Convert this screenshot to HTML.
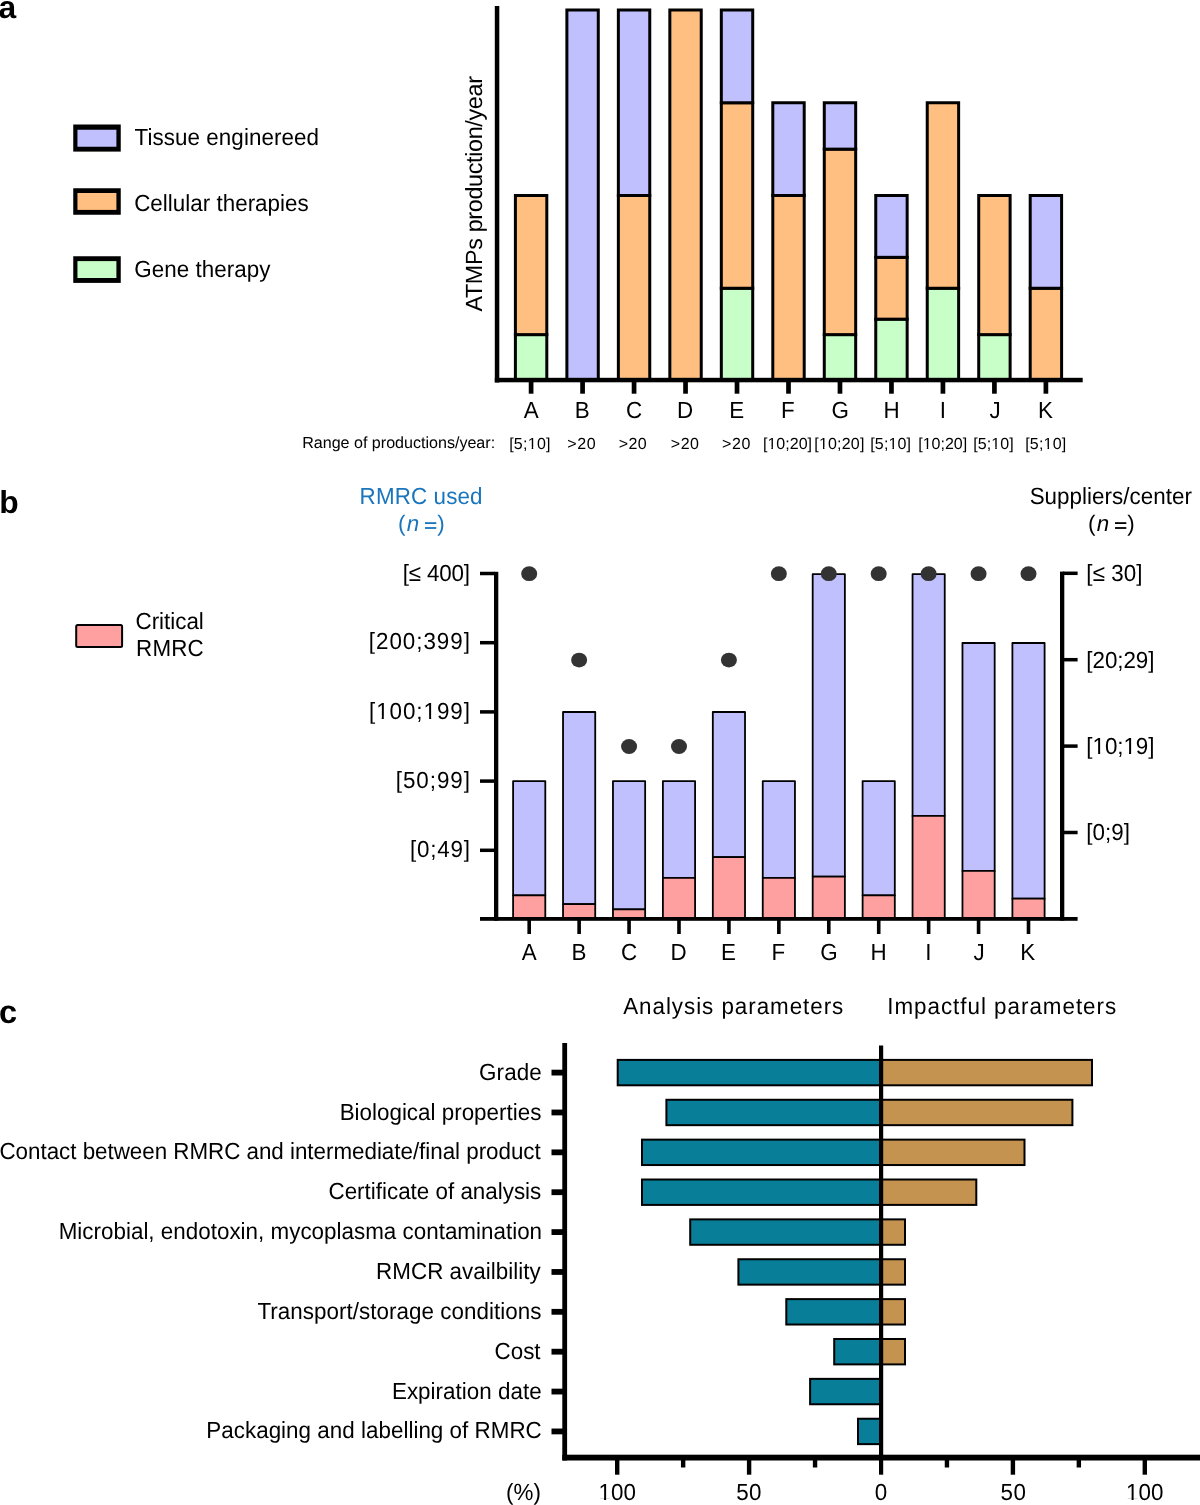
<!DOCTYPE html>
<html><head><meta charset="utf-8"><style>
html,body{margin:0;padding:0;background:#fff;width:1200px;height:1505px;overflow:hidden;}
svg{display:block;will-change:transform;font-family:"Liberation Sans",sans-serif;}
</style></head><body>
<svg width="1200" height="1505" viewBox="0 0 1200 1505" font-family="Liberation Sans, sans-serif" text-rendering="geometricPrecision">
<rect width="1200" height="1505" fill="#fff"/>
<rect x="515.40" y="334.62" width="31.4" height="45.38" fill="#c8ffc8" stroke="#000" stroke-width="3.0"/>
<rect x="515.40" y="195.50" width="31.4" height="139.12" fill="#ffbf80" stroke="#000" stroke-width="3.0"/>
<rect x="566.88" y="10.00" width="31.4" height="370.00" fill="#c0c0ff" stroke="#000" stroke-width="3.0"/>
<rect x="618.36" y="195.50" width="31.4" height="184.50" fill="#ffbf80" stroke="#000" stroke-width="3.0"/>
<rect x="618.36" y="10.00" width="31.4" height="185.50" fill="#c0c0ff" stroke="#000" stroke-width="3.0"/>
<rect x="669.84" y="10.00" width="31.4" height="370.00" fill="#ffbf80" stroke="#000" stroke-width="3.0"/>
<rect x="721.32" y="288.25" width="31.4" height="91.75" fill="#c8ffc8" stroke="#000" stroke-width="3.0"/>
<rect x="721.32" y="102.75" width="31.4" height="185.50" fill="#ffbf80" stroke="#000" stroke-width="3.0"/>
<rect x="721.32" y="10.00" width="31.4" height="92.75" fill="#c0c0ff" stroke="#000" stroke-width="3.0"/>
<rect x="772.80" y="195.50" width="31.4" height="184.50" fill="#ffbf80" stroke="#000" stroke-width="3.0"/>
<rect x="772.80" y="102.75" width="31.4" height="92.75" fill="#c0c0ff" stroke="#000" stroke-width="3.0"/>
<rect x="824.28" y="334.62" width="31.4" height="45.38" fill="#c8ffc8" stroke="#000" stroke-width="3.0"/>
<rect x="824.28" y="149.12" width="31.4" height="185.50" fill="#ffbf80" stroke="#000" stroke-width="3.0"/>
<rect x="824.28" y="102.75" width="31.4" height="46.38" fill="#c0c0ff" stroke="#000" stroke-width="3.0"/>
<rect x="875.76" y="319.17" width="31.4" height="60.83" fill="#c8ffc8" stroke="#000" stroke-width="3.0"/>
<rect x="875.76" y="257.33" width="31.4" height="61.83" fill="#ffbf80" stroke="#000" stroke-width="3.0"/>
<rect x="875.76" y="195.50" width="31.4" height="61.83" fill="#c0c0ff" stroke="#000" stroke-width="3.0"/>
<rect x="927.24" y="288.25" width="31.4" height="91.75" fill="#c8ffc8" stroke="#000" stroke-width="3.0"/>
<rect x="927.24" y="102.75" width="31.4" height="185.50" fill="#ffbf80" stroke="#000" stroke-width="3.0"/>
<rect x="978.72" y="334.62" width="31.4" height="45.38" fill="#c8ffc8" stroke="#000" stroke-width="3.0"/>
<rect x="978.72" y="195.50" width="31.4" height="139.12" fill="#ffbf80" stroke="#000" stroke-width="3.0"/>
<rect x="1030.20" y="288.25" width="31.4" height="91.75" fill="#ffbf80" stroke="#000" stroke-width="3.0"/>
<rect x="1030.20" y="195.50" width="31.4" height="92.75" fill="#c0c0ff" stroke="#000" stroke-width="3.0"/>
<rect x="494.80" y="6.00" width="4.50" height="376.50" fill="#000" />
<rect x="494.80" y="377.80" width="587.90" height="4.50" fill="#000" />
<rect x="528.75" y="380.00" width="4.70" height="13.70" fill="#000" />
<rect x="580.23" y="380.00" width="4.70" height="13.70" fill="#000" />
<rect x="631.71" y="380.00" width="4.70" height="13.70" fill="#000" />
<rect x="683.19" y="380.00" width="4.70" height="13.70" fill="#000" />
<rect x="734.67" y="380.00" width="4.70" height="13.70" fill="#000" />
<rect x="786.15" y="380.00" width="4.70" height="13.70" fill="#000" />
<rect x="837.63" y="380.00" width="4.70" height="13.70" fill="#000" />
<rect x="889.11" y="380.00" width="4.70" height="13.70" fill="#000" />
<rect x="940.59" y="380.00" width="4.70" height="13.70" fill="#000" />
<rect x="992.07" y="380.00" width="4.70" height="13.70" fill="#000" />
<rect x="1043.55" y="380.00" width="4.70" height="13.70" fill="#000" />
<rect x="73.25" y="124.50" width="47.50" height="27.10" fill="#000" />
<rect x="77.45" y="129.75" width="38.95" height="17.00" fill="#c0c0ff" />
<rect x="73.25" y="188.25" width="47.50" height="26.50" fill="#000" />
<rect x="77.45" y="193.00" width="38.95" height="16.90" fill="#ffbf80" />
<rect x="73.25" y="256.25" width="47.50" height="26.65" fill="#000" />
<rect x="77.45" y="261.10" width="38.95" height="16.90" fill="#c8ffc8" />
<rect x="513.10" y="781.10" width="32.2" height="114.30" fill="#c0c0ff" stroke="#000" stroke-width="1.8" stroke-linejoin="round"/>
<rect x="513.10" y="895.40" width="32.2" height="23.60" fill="#ffa0a0" stroke="#000" stroke-width="1.8" stroke-linejoin="round"/>
<rect x="563.03" y="712.00" width="32.2" height="192.15" fill="#c0c0ff" stroke="#000" stroke-width="1.8" stroke-linejoin="round"/>
<rect x="563.03" y="904.15" width="32.2" height="14.85" fill="#ffa0a0" stroke="#000" stroke-width="1.8" stroke-linejoin="round"/>
<rect x="612.96" y="781.10" width="32.2" height="128.30" fill="#c0c0ff" stroke="#000" stroke-width="1.8" stroke-linejoin="round"/>
<rect x="612.96" y="909.40" width="32.2" height="9.60" fill="#ffa0a0" stroke="#000" stroke-width="1.8" stroke-linejoin="round"/>
<rect x="662.89" y="781.10" width="32.2" height="96.80" fill="#c0c0ff" stroke="#000" stroke-width="1.8" stroke-linejoin="round"/>
<rect x="662.89" y="877.90" width="32.2" height="41.10" fill="#ffa0a0" stroke="#000" stroke-width="1.8" stroke-linejoin="round"/>
<rect x="712.82" y="712.00" width="32.2" height="145.15" fill="#c0c0ff" stroke="#000" stroke-width="1.8" stroke-linejoin="round"/>
<rect x="712.82" y="857.15" width="32.2" height="61.85" fill="#ffa0a0" stroke="#000" stroke-width="1.8" stroke-linejoin="round"/>
<rect x="762.75" y="781.10" width="32.2" height="96.80" fill="#c0c0ff" stroke="#000" stroke-width="1.8" stroke-linejoin="round"/>
<rect x="762.75" y="877.90" width="32.2" height="41.10" fill="#ffa0a0" stroke="#000" stroke-width="1.8" stroke-linejoin="round"/>
<rect x="812.68" y="574.20" width="32.2" height="302.45" fill="#c0c0ff" stroke="#000" stroke-width="1.8" stroke-linejoin="round"/>
<rect x="812.68" y="876.65" width="32.2" height="42.35" fill="#ffa0a0" stroke="#000" stroke-width="1.8" stroke-linejoin="round"/>
<rect x="862.61" y="781.10" width="32.2" height="114.30" fill="#c0c0ff" stroke="#000" stroke-width="1.8" stroke-linejoin="round"/>
<rect x="862.61" y="895.40" width="32.2" height="23.60" fill="#ffa0a0" stroke="#000" stroke-width="1.8" stroke-linejoin="round"/>
<rect x="912.54" y="574.20" width="32.2" height="241.70" fill="#c0c0ff" stroke="#000" stroke-width="1.8" stroke-linejoin="round"/>
<rect x="912.54" y="815.90" width="32.2" height="103.10" fill="#ffa0a0" stroke="#000" stroke-width="1.8" stroke-linejoin="round"/>
<rect x="962.47" y="643.00" width="32.2" height="227.90" fill="#c0c0ff" stroke="#000" stroke-width="1.8" stroke-linejoin="round"/>
<rect x="962.47" y="870.90" width="32.2" height="48.10" fill="#ffa0a0" stroke="#000" stroke-width="1.8" stroke-linejoin="round"/>
<rect x="1012.40" y="643.00" width="32.2" height="255.65" fill="#c0c0ff" stroke="#000" stroke-width="1.8" stroke-linejoin="round"/>
<rect x="1012.40" y="898.65" width="32.2" height="20.35" fill="#ffa0a0" stroke="#000" stroke-width="1.8" stroke-linejoin="round"/>
<rect x="494.00" y="571.80" width="4.30" height="348.90" fill="#000" />
<rect x="480.00" y="571.75" width="15.00" height="3.50" fill="#000" />
<rect x="480.00" y="640.95" width="15.00" height="3.50" fill="#000" />
<rect x="480.00" y="710.15" width="15.00" height="3.50" fill="#000" />
<rect x="480.00" y="779.35" width="15.00" height="3.50" fill="#000" />
<rect x="480.00" y="848.55" width="15.00" height="3.50" fill="#000" />
<rect x="1060.00" y="571.60" width="4.30" height="349.10" fill="#000" />
<rect x="1063.00" y="571.55" width="14.60" height="3.50" fill="#000" />
<rect x="1063.00" y="657.95" width="14.60" height="3.50" fill="#000" />
<rect x="1063.00" y="744.35" width="14.60" height="3.50" fill="#000" />
<rect x="1063.00" y="830.75" width="14.60" height="3.50" fill="#000" />
<rect x="480.00" y="917.00" width="597.60" height="3.80" fill="#000" />
<rect x="527.40" y="919.00" width="3.60" height="15.00" fill="#000" />
<rect x="577.33" y="919.00" width="3.60" height="15.00" fill="#000" />
<rect x="627.26" y="919.00" width="3.60" height="15.00" fill="#000" />
<rect x="677.19" y="919.00" width="3.60" height="15.00" fill="#000" />
<rect x="727.12" y="919.00" width="3.60" height="15.00" fill="#000" />
<rect x="777.05" y="919.00" width="3.60" height="15.00" fill="#000" />
<rect x="826.98" y="919.00" width="3.60" height="15.00" fill="#000" />
<rect x="876.91" y="919.00" width="3.60" height="15.00" fill="#000" />
<rect x="926.84" y="919.00" width="3.60" height="15.00" fill="#000" />
<rect x="976.77" y="919.00" width="3.60" height="15.00" fill="#000" />
<rect x="1026.70" y="919.00" width="3.60" height="15.00" fill="#000" />
<ellipse cx="529.20" cy="573.70" rx="8" ry="7.4" fill="#333333"/>
<ellipse cx="579.13" cy="660.10" rx="8" ry="7.4" fill="#333333"/>
<ellipse cx="629.06" cy="746.50" rx="8" ry="7.4" fill="#333333"/>
<ellipse cx="678.99" cy="746.50" rx="8" ry="7.4" fill="#333333"/>
<ellipse cx="728.92" cy="660.10" rx="8" ry="7.4" fill="#333333"/>
<ellipse cx="778.85" cy="573.70" rx="8" ry="7.4" fill="#333333"/>
<ellipse cx="828.78" cy="573.70" rx="8" ry="7.4" fill="#333333"/>
<ellipse cx="878.71" cy="573.70" rx="8" ry="7.4" fill="#333333"/>
<ellipse cx="928.64" cy="573.70" rx="8" ry="7.4" fill="#333333"/>
<ellipse cx="978.57" cy="573.70" rx="8" ry="7.4" fill="#333333"/>
<ellipse cx="1028.50" cy="573.70" rx="8" ry="7.4" fill="#333333"/>
<rect x="76.2" y="625.0" width="45.9" height="22.1" rx="1.5" fill="#ffa0a0" stroke="#000" stroke-width="2"/>
<rect x="617.70" y="1059.90" width="263.30" height="25.40" fill="#087e98" stroke="#000" stroke-width="2.0"/>
<rect x="881.00" y="1059.90" width="211.00" height="25.40" fill="#c4934f" stroke="#000" stroke-width="2.0"/>
<rect x="666.40" y="1099.77" width="214.60" height="25.40" fill="#087e98" stroke="#000" stroke-width="2.0"/>
<rect x="881.00" y="1099.77" width="191.40" height="25.40" fill="#c4934f" stroke="#000" stroke-width="2.0"/>
<rect x="642.00" y="1139.64" width="239.00" height="25.40" fill="#087e98" stroke="#000" stroke-width="2.0"/>
<rect x="881.00" y="1139.64" width="143.50" height="25.40" fill="#c4934f" stroke="#000" stroke-width="2.0"/>
<rect x="642.00" y="1179.51" width="239.00" height="25.40" fill="#087e98" stroke="#000" stroke-width="2.0"/>
<rect x="881.00" y="1179.51" width="95.30" height="25.40" fill="#c4934f" stroke="#000" stroke-width="2.0"/>
<rect x="690.20" y="1219.38" width="190.80" height="25.40" fill="#087e98" stroke="#000" stroke-width="2.0"/>
<rect x="881.00" y="1219.38" width="24.00" height="25.40" fill="#c4934f" stroke="#000" stroke-width="2.0"/>
<rect x="738.40" y="1259.25" width="142.60" height="25.40" fill="#087e98" stroke="#000" stroke-width="2.0"/>
<rect x="881.00" y="1259.25" width="24.00" height="25.40" fill="#c4934f" stroke="#000" stroke-width="2.0"/>
<rect x="786.30" y="1299.12" width="94.70" height="25.40" fill="#087e98" stroke="#000" stroke-width="2.0"/>
<rect x="881.00" y="1299.12" width="24.00" height="25.40" fill="#c4934f" stroke="#000" stroke-width="2.0"/>
<rect x="834.20" y="1338.99" width="46.80" height="25.40" fill="#087e98" stroke="#000" stroke-width="2.0"/>
<rect x="881.00" y="1338.99" width="24.00" height="25.40" fill="#c4934f" stroke="#000" stroke-width="2.0"/>
<rect x="810.10" y="1378.86" width="70.90" height="25.40" fill="#087e98" stroke="#000" stroke-width="2.0"/>
<rect x="858.00" y="1418.73" width="23.00" height="25.40" fill="#087e98" stroke="#000" stroke-width="2.0"/>
<rect x="562.30" y="1043.00" width="4.80" height="417.50" fill="#000" />
<rect x="551.50" y="1069.70" width="12.00" height="5.80" fill="#000" />
<rect x="551.50" y="1109.57" width="12.00" height="5.80" fill="#000" />
<rect x="551.50" y="1149.44" width="12.00" height="5.80" fill="#000" />
<rect x="551.50" y="1189.31" width="12.00" height="5.80" fill="#000" />
<rect x="551.50" y="1229.18" width="12.00" height="5.80" fill="#000" />
<rect x="551.50" y="1269.05" width="12.00" height="5.80" fill="#000" />
<rect x="551.50" y="1308.92" width="12.00" height="5.80" fill="#000" />
<rect x="551.50" y="1348.79" width="12.00" height="5.80" fill="#000" />
<rect x="551.50" y="1388.66" width="12.00" height="5.80" fill="#000" />
<rect x="551.50" y="1428.53" width="12.00" height="5.80" fill="#000" />
<rect x="879.00" y="1045.50" width="4.20" height="429.20" fill="#000" />
<rect x="562.30" y="1454.70" width="637.70" height="5.80" fill="#000" />
<rect x="615.00" y="1457.00" width="4.40" height="17.70" fill="#000" />
<rect x="746.90" y="1457.00" width="4.40" height="17.70" fill="#000" />
<rect x="1010.70" y="1457.00" width="4.40" height="17.70" fill="#000" />
<rect x="1142.60" y="1457.00" width="4.40" height="17.70" fill="#000" />
<rect x="680.95" y="1457.00" width="4.40" height="10.50" fill="#000" />
<rect x="812.85" y="1457.00" width="4.40" height="10.50" fill="#000" />
<rect x="944.75" y="1457.00" width="4.40" height="10.50" fill="#000" />
<rect x="1076.65" y="1457.00" width="4.40" height="10.50" fill="#000" />
<text id="pa" x="-1.50" y="17.80" font-size="31.80" fill="#000" font-weight="bold">a</text>
<text id="pb" x="-0.70" y="512.50" font-size="31.80" fill="#000" font-weight="bold">b</text>
<text id="pc" x="-1.10" y="1022.50" font-size="32.60" fill="#000" font-weight="bold">c</text>
<text id="leg1" transform="translate(134.47,145.00) scale(1,1.042)" x="0" y="0" textLength="184.54" lengthAdjust="spacing" font-size="22.40" fill="#000">Tissue enginereed</text>
<text id="leg2" transform="translate(134.13,210.80) scale(1,1.042)" x="0" y="0" textLength="174.59" lengthAdjust="spacing" font-size="22.40" fill="#000">Cellular therapies</text>
<text id="leg3" transform="translate(134.33,276.70) scale(1,1.042)" x="0" y="0" textLength="136.22" lengthAdjust="spacing" font-size="22.40" fill="#000">Gene therapy</text>
<text id="rng" x="302.16" y="448.30" textLength="192.95" lengthAdjust="spacing" font-size="16.10" fill="#000">Range of productions/year:</text>
<text id="axl0" transform="translate(531.19,418.00) scale(1,1.042)" x="0" y="0" text-anchor="middle" font-size="22.40" fill="#000">A</text>
<text id="axl1" transform="translate(582.19,418.00) scale(1,1.042)" x="0" y="0" text-anchor="middle" font-size="22.40" fill="#000">B</text>
<text id="axl2" transform="translate(634.03,418.00) scale(1,1.042)" x="0" y="0" text-anchor="middle" font-size="22.40" fill="#000">C</text>
<text id="axl3" transform="translate(685.15,418.00) scale(1,1.042)" x="0" y="0" text-anchor="middle" font-size="22.40" fill="#000">D</text>
<text id="axl4" transform="translate(736.63,418.00) scale(1,1.042)" x="0" y="0" text-anchor="middle" font-size="22.40" fill="#000">E</text>
<text id="axl5" transform="translate(787.95,418.00) scale(1,1.042)" x="0" y="0" text-anchor="middle" font-size="22.40" fill="#000">F</text>
<text id="axl6" transform="translate(840.27,418.00) scale(1,1.042)" x="0" y="0" text-anchor="middle" font-size="22.40" fill="#000">G</text>
<text id="axl7" transform="translate(891.54,418.00) scale(1,1.042)" x="0" y="0" text-anchor="middle" font-size="22.40" fill="#000">H</text>
<text id="axl8" transform="translate(942.88,418.00) scale(1,1.042)" x="0" y="0" text-anchor="middle" font-size="22.40" fill="#000">I</text>
<text id="axl9" transform="translate(994.98,418.00) scale(1,1.042)" x="0" y="0" text-anchor="middle" font-size="22.40" fill="#000">J</text>
<text id="axl10" transform="translate(1045.46,418.00) scale(1,1.042)" x="0" y="0" text-anchor="middle" font-size="22.40" fill="#000">K</text>
<text id="arng0" x="509.13" y="448.50" textLength="41.43" lengthAdjust="spacing" font-size="16.00" fill="#000">[5;10]</text>
<text id="arng1" x="567.20" y="448.50" textLength="28.55" lengthAdjust="spacing" font-size="16.00" fill="#000">&gt;20</text>
<text id="arng2" x="618.68" y="448.50" textLength="28.07" lengthAdjust="spacing" font-size="16.00" fill="#000">&gt;20</text>
<text id="arng3" x="670.76" y="448.50" textLength="28.24" lengthAdjust="spacing" font-size="16.00" fill="#000">&gt;20</text>
<text id="arng4" x="721.96" y="448.50" textLength="28.40" lengthAdjust="spacing" font-size="16.00" fill="#000">&gt;20</text>
<text id="arng5" x="762.95" y="448.50" textLength="49.09" lengthAdjust="spacing" font-size="16.00" fill="#000">[10;20]</text>
<text id="arng6" x="814.37" y="448.50" textLength="49.96" lengthAdjust="spacing" font-size="16.00" fill="#000">[10;20]</text>
<text id="arng7" x="870.24" y="448.50" textLength="40.80" lengthAdjust="spacing" font-size="16.00" fill="#000">[5;10]</text>
<text id="arng8" x="918.24" y="448.50" textLength="48.92" lengthAdjust="spacing" font-size="16.00" fill="#000">[10;20]</text>
<text id="arng9" x="973.13" y="448.50" textLength="40.66" lengthAdjust="spacing" font-size="16.00" fill="#000">[5;10]</text>
<text id="arng10" x="1025.25" y="448.50" textLength="40.91" lengthAdjust="spacing" font-size="16.00" fill="#000">[5;10]</text>
<text id="crit1" transform="translate(135.52,629.00) scale(1,1.042)" x="0" y="0" textLength="68.27" lengthAdjust="spacing" font-size="22.40" fill="#000">Critical</text>
<text id="crit2" transform="translate(136.09,655.90) scale(1,1.042)" x="0" y="0" textLength="67.60" lengthAdjust="spacing" font-size="22.40" fill="#000">RMRC</text>
<text id="used1" transform="translate(359.59,504.30) scale(1,1.042)" x="0" y="0" textLength="122.98" lengthAdjust="spacing" font-size="22.40" fill="#1a75bc">RMRC used</text>
<text id="sup1" transform="translate(1029.65,504.10) scale(1,1.042)" x="0" y="0" textLength="162.38" lengthAdjust="spacing" font-size="22.40" fill="#000">Suppliers/center</text>
<text id="bl0" transform="translate(402.77,580.60) scale(1,1.042)" x="0" y="0" textLength="67.14" lengthAdjust="spacing" font-size="22.40" fill="#000">[&#8804; 400]</text>
<text id="bl1" transform="translate(368.75,649.30) scale(1,1.042)" x="0" y="0" textLength="101.20" lengthAdjust="spacing" font-size="22.40" fill="#000">[200;399]</text>
<text id="bl2" transform="translate(368.98,718.60) scale(1,1.042)" x="0" y="0" textLength="100.97" lengthAdjust="spacing" font-size="22.40" fill="#000">[100;199]</text>
<text id="bl3" transform="translate(395.81,787.80) scale(1,1.042)" x="0" y="0" textLength="74.14" lengthAdjust="spacing" font-size="22.40" fill="#000">[50;99]</text>
<text id="bl4" transform="translate(409.92,857.00) scale(1,1.042)" x="0" y="0" textLength="59.99" lengthAdjust="spacing" font-size="22.40" fill="#000">[0;49]</text>
<text id="br0" transform="translate(1086.37,581.10) scale(1,1.042)" x="0" y="0" textLength="56.10" lengthAdjust="spacing" font-size="22.40" fill="#000">[&#8804; 30]</text>
<text id="br1" transform="translate(1086.37,668.00) scale(1,1.042)" x="0" y="0" textLength="68.07" lengthAdjust="spacing" font-size="22.40" fill="#000">[20;29]</text>
<text id="br2" transform="translate(1086.37,753.90) scale(1,1.042)" x="0" y="0" textLength="68.07" lengthAdjust="spacing" font-size="22.40" fill="#000">[10;19]</text>
<text id="br3" transform="translate(1086.37,840.20) scale(1,1.042)" x="0" y="0" textLength="43.64" lengthAdjust="spacing" font-size="22.40" fill="#000">[0;9]</text>
<text id="bxl0" transform="translate(529.15,959.80) scale(1,1.042)" x="0" y="0" text-anchor="middle" font-size="22.40" fill="#000">A</text>
<text id="bxl1" transform="translate(578.86,959.80) scale(1,1.042)" x="0" y="0" text-anchor="middle" font-size="22.40" fill="#000">B</text>
<text id="bxl2" transform="translate(629.03,959.80) scale(1,1.042)" x="0" y="0" text-anchor="middle" font-size="22.40" fill="#000">C</text>
<text id="bxl3" transform="translate(678.53,959.80) scale(1,1.042)" x="0" y="0" text-anchor="middle" font-size="22.40" fill="#000">D</text>
<text id="bxl4" transform="translate(728.58,959.80) scale(1,1.042)" x="0" y="0" text-anchor="middle" font-size="22.40" fill="#000">E</text>
<text id="bxl5" transform="translate(778.35,959.80) scale(1,1.042)" x="0" y="0" text-anchor="middle" font-size="22.40" fill="#000">F</text>
<text id="bxl6" transform="translate(828.95,959.80) scale(1,1.042)" x="0" y="0" text-anchor="middle" font-size="22.40" fill="#000">G</text>
<text id="bxl7" transform="translate(878.69,959.80) scale(1,1.042)" x="0" y="0" text-anchor="middle" font-size="22.40" fill="#000">H</text>
<text id="bxl8" transform="translate(928.45,959.80) scale(1,1.042)" x="0" y="0" text-anchor="middle" font-size="22.40" fill="#000">I</text>
<text id="bxl9" transform="translate(979.14,959.80) scale(1,1.042)" x="0" y="0" text-anchor="middle" font-size="22.40" fill="#000">J</text>
<text id="bxl10" transform="translate(1027.81,959.80) scale(1,1.042)" x="0" y="0" text-anchor="middle" font-size="22.40" fill="#000">K</text>
<text id="ana" transform="translate(623.22,1013.80) scale(1,1.042)" x="0" y="0" textLength="220.07" lengthAdjust="spacing" font-size="22.40" fill="#000">Analysis parameters</text>
<text id="imp" transform="translate(887.22,1013.80) scale(1,1.042)" x="0" y="0" textLength="228.94" lengthAdjust="spacing" font-size="22.40" fill="#000">Impactful parameters</text>
<text id="row0" transform="translate(479.12,1079.70) scale(1,1.042)" x="0" y="0" textLength="62.57" lengthAdjust="spacing" font-size="22.40" fill="#000">Grade</text>
<text id="row1" transform="translate(339.63,1119.55) scale(1,1.042)" x="0" y="0" textLength="201.72" lengthAdjust="spacing" font-size="22.40" fill="#000">Biological properties</text>
<text id="row2" transform="translate(-0.52,1159.40) scale(1,1.042)" x="0" y="0" textLength="541.28" lengthAdjust="spacing" font-size="22.40" fill="#000">Contact between RMRC and intermediate/final product</text>
<text id="row3" transform="translate(328.51,1199.25) scale(1,1.042)" x="0" y="0" textLength="212.76" lengthAdjust="spacing" font-size="22.40" fill="#000">Certificate of analysis</text>
<text id="row4" transform="translate(58.70,1239.10) scale(1,1.042)" x="0" y="0" textLength="483.37" lengthAdjust="spacing" font-size="22.40" fill="#000">Microbial, endotoxin, mycoplasma contamination</text>
<text id="row5" transform="translate(376.12,1278.95) scale(1,1.042)" x="0" y="0" textLength="164.65" lengthAdjust="spacing" font-size="22.40" fill="#000">RMCR availbility</text>
<text id="row6" transform="translate(257.45,1318.80) scale(1,1.042)" x="0" y="0" textLength="283.92" lengthAdjust="spacing" font-size="22.40" fill="#000">Transport/storage conditions</text>
<text id="row7" transform="translate(494.48,1358.65) scale(1,1.042)" x="0" y="0" textLength="46.11" lengthAdjust="spacing" font-size="22.40" fill="#000">Cost</text>
<text id="row8" transform="translate(391.96,1398.50) scale(1,1.042)" x="0" y="0" textLength="149.66" lengthAdjust="spacing" font-size="22.40" fill="#000">Expiration date</text>
<text id="row9" transform="translate(206.32,1438.35) scale(1,1.042)" x="0" y="0" textLength="335.48" lengthAdjust="spacing" font-size="22.40" fill="#000">Packaging and labelling of RMRC</text>
<text id="pct" transform="translate(506.09,1500.30) scale(1,1.042)" x="0" y="0" textLength="34.92" lengthAdjust="spacing" font-size="22.40" fill="#000">(%)</text>
<text id="ct0" transform="translate(598.47,1500.30) scale(1,1.042)" x="0" y="0" textLength="37.37" lengthAdjust="spacing" font-size="22.40" fill="#000">100</text>
<text id="ct1" transform="translate(736.29,1500.30) scale(1,1.042)" x="0" y="0" textLength="25.12" lengthAdjust="spacing" font-size="22.40" fill="#000">50</text>
<text id="ct2" transform="translate(881.09,1500.30) scale(1,1.042)" x="0" y="0" text-anchor="middle" font-size="22.40" fill="#000">0</text>
<text id="ct3" transform="translate(1000.56,1500.30) scale(1,1.042)" x="0" y="0" textLength="25.32" lengthAdjust="spacing" font-size="22.40" fill="#000">50</text>
<text id="ct4" transform="translate(1125.97,1500.30) scale(1,1.042)" x="0" y="0" textLength="37.46" lengthAdjust="spacing" font-size="22.40" fill="#000">100</text>
<text x="398.00" y="531.0" font-size="22.4" fill="#1a75bc">(</text>
<text x="406.80" y="531.0" font-size="22.4" fill="#1a75bc" font-style="italic">n</text>
<text x="437.30" y="531.0" font-size="22.4" fill="#1a75bc">)</text>
<rect x="425.00" y="522.2" width="11.3" height="1.8" fill="#1a75bc"/>
<rect x="425.00" y="527.1" width="11.3" height="1.8" fill="#1a75bc"/>
<text x="1088.00" y="531.0" font-size="22.4" fill="#000">(</text>
<text x="1096.80" y="531.0" font-size="22.4" fill="#000" font-style="italic">n</text>
<text x="1127.30" y="531.0" font-size="22.4" fill="#000">)</text>
<rect x="1115.00" y="522.2" width="11.3" height="1.8" fill="#000"/>
<rect x="1115.00" y="527.1" width="11.3" height="1.8" fill="#000"/>
<rect x="527.97" y="446.95" width="3.75" height="2.15" fill="#fff" />
<rect x="533.24" y="446.95" width="3.68" height="2.15" fill="#fff" />
<rect x="767.64" y="446.95" width="3.75" height="2.15" fill="#fff" />
<rect x="772.91" y="446.95" width="3.68" height="2.15" fill="#fff" />
<rect x="819.20" y="446.95" width="3.75" height="2.15" fill="#fff" />
<rect x="824.47" y="446.95" width="3.68" height="2.15" fill="#fff" />
<rect x="888.70" y="446.95" width="3.75" height="2.15" fill="#fff" />
<rect x="893.97" y="446.95" width="3.68" height="2.15" fill="#fff" />
<rect x="922.90" y="446.95" width="3.75" height="2.15" fill="#fff" />
<rect x="928.17" y="446.95" width="3.68" height="2.15" fill="#fff" />
<rect x="991.51" y="446.95" width="3.75" height="2.15" fill="#fff" />
<rect x="996.78" y="446.95" width="3.68" height="2.15" fill="#fff" />
<rect x="1043.78" y="446.95" width="3.75" height="2.15" fill="#fff" />
<rect x="1049.05" y="446.95" width="3.68" height="2.15" fill="#fff" />
<rect x="376.86" y="716.51" width="4.88" height="2.69" fill="#fff" />
<rect x="383.82" y="716.51" width="4.75" height="2.69" fill="#fff" />
<rect x="424.23" y="716.51" width="4.88" height="2.69" fill="#fff" />
<rect x="431.19" y="716.51" width="4.75" height="2.69" fill="#fff" />
<rect x="1093.24" y="751.81" width="4.88" height="2.69" fill="#fff" />
<rect x="1100.19" y="751.81" width="4.75" height="2.69" fill="#fff" />
<rect x="1124.15" y="751.81" width="4.88" height="2.69" fill="#fff" />
<rect x="1131.11" y="751.81" width="4.75" height="2.69" fill="#fff" />
<rect x="599.18" y="1498.21" width="4.88" height="2.69" fill="#fff" />
<rect x="606.13" y="1498.21" width="4.75" height="2.69" fill="#fff" />
<rect x="1126.68" y="1498.21" width="4.88" height="2.69" fill="#fff" />
<rect x="1133.63" y="1498.21" width="4.75" height="2.69" fill="#fff" />
<text id="rot" transform="rotate(-90)" x="-311.57" y="481.80" font-size="23.40" textLength="235.50" lengthAdjust="spacing" fill="#000">ATMPs production/year</text>
</svg>
</body></html>
